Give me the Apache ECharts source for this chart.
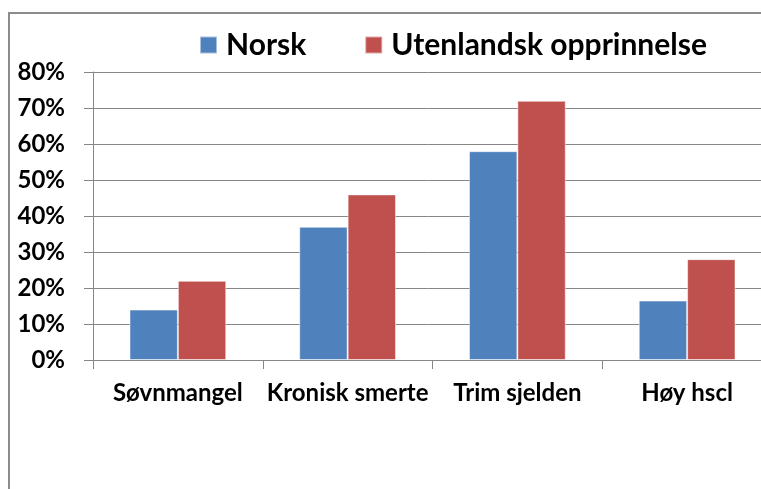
<!DOCTYPE html>
<html>
<head>
<meta charset="utf-8">
<script src="https://cdn.jsdelivr.net/npm/echarts@6/dist/echarts.min.js"></script>
<style>
html,body{margin:0;padding:0;background:#fff;}
#c{width:761px;height:489px;}
</style>
</head>
<body>
<div id="c"></div>
<script>
const categories = ['Søvnmangel', 'Kronisk smerte', 'Trim sjelden', 'Høy hscl'];
const seriesNames = ['Norsk', 'Utenlandsk opprinnelse'];
const norsk = [14, 37, 58, 16.5];
const utenlandsk = [22, 46, 72, 28];
const yTicks = { min: 0, max: 80, interval: 10 };

const FONT = 'Lato';
const chart = echarts.init(document.getElementById('c'), null, { renderer: 'canvas' });
chart.setOption({
  animation: false,
  backgroundColor: '#fff',
  graphic: [{
    type: 'rect', silent: true,
    shape: { x: 9, y: 13, width: 900, height: 600 },
    style: { fill: 'none', stroke: '#8c8c8c', lineWidth: 2 }
  }],
  legend: {
    left: 199, top: 30, padding: 0,
    itemWidth: 17, itemHeight: 17, itemGap: 58,
    icon: 'rect',
    textStyle: { fontFamily: FONT, fontWeight: 'bold', fontSize: 30, color: '#000', padding: [0, 0, 0, 4] },
    data: seriesNames
  },
  grid: { left: 93, top: 72, height: 288, width: 679, containLabel: false, outerBoundsMode: 'none' },
  xAxis: {
    type: 'category', data: categories,
    axisLine: { lineStyle: { color: '#868686', width: 1 } },
    axisTick: { show: true, length: 9, lineStyle: { color: '#868686' } },
    axisLabel: { interval: 0, margin: 21, fontFamily: FONT, fontWeight: 'bold', fontSize: 24, color: '#000' },
    splitLine: { show: false }
  },
  yAxis: {
    type: 'value', min: yTicks.min, max: yTicks.max, interval: yTicks.interval,
    axisLine: { show: true, lineStyle: { color: '#868686', width: 1 } },
    axisTick: { show: true, length: 9, lineStyle: { color: '#868686' } },
    axisLabel: { margin: 28, formatter: '{value}%', fontFamily: FONT, fontWeight: 'bold', fontSize: 24, color: '#000' },
    splitLine: { lineStyle: { color: '#868686', width: 1 } }
  },
  series: [
    { name: seriesNames[0], type: 'bar', data: norsk, barGap: '0%', barCategoryGap: '43%',
      itemStyle: { color: '#4F81BD', borderColor: 'rgba(255,255,255,0.5)', borderWidth: 1 } },
    { name: seriesNames[1], type: 'bar', data: utenlandsk, barGap: '0%', barCategoryGap: '43%',
      itemStyle: { color: '#C0504D', borderColor: 'rgba(255,255,255,0.5)', borderWidth: 1 } }
  ]
});
</script>
</body>
</html>
